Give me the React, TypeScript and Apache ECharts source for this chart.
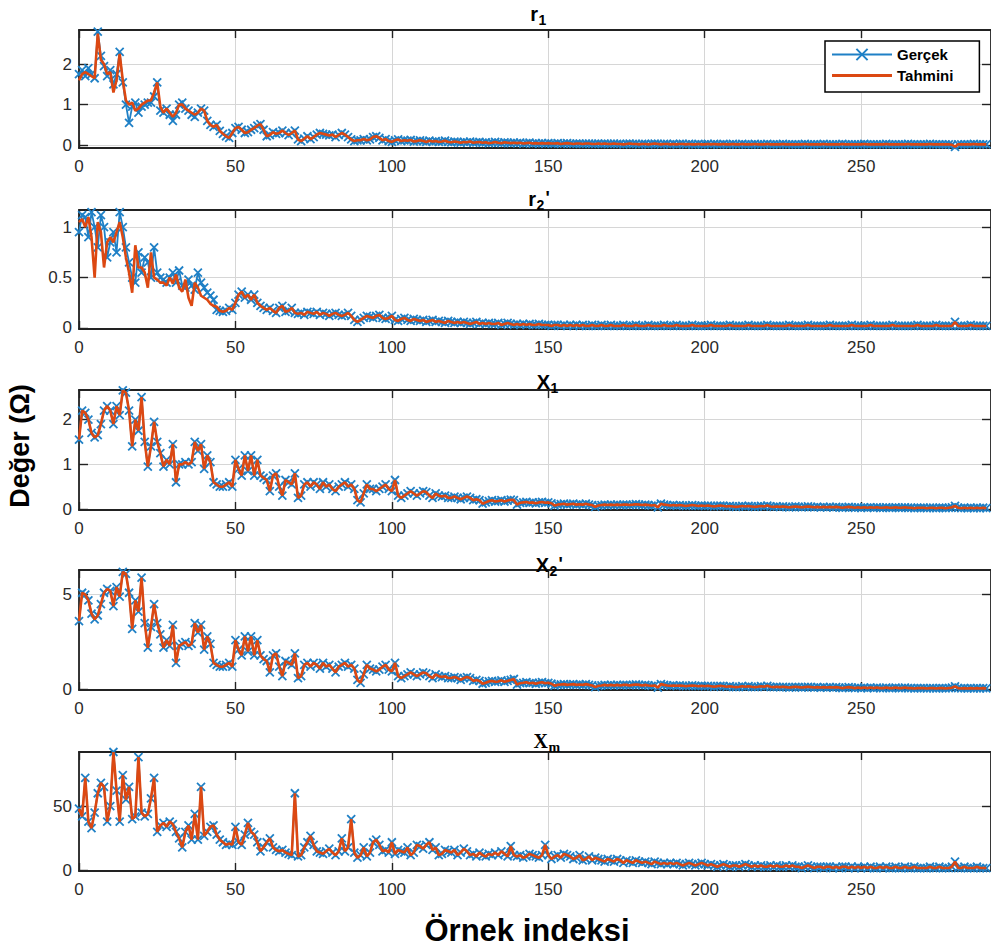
import React, { useEffect, useRef } from 'react';
import * as echarts from 'echarts';

const xTickValues = [0, 50, 100, 150, 200, 250];
const seriesNames = ['Gerçek', 'Tahmini'];

const r1Gercek = [
  1.75,1.85,1.7,1.9,1.75,1.65,2.8,2.2,1.95,1.7,
  1.85,1.5,1.75,2.3,1.55,1.0,0.55,0.95,1.05,0.8,
  0.95,1.0,1.05,1.05,1.2,1.55,0.85,0.8,0.9,0.75,
  0.6,0.75,1.0,1.05,0.9,0.85,0.75,0.7,0.8,0.9,
  0.85,0.6,0.5,0.45,0.5,0.35,0.28,0.22,0.18,0.3,
  0.42,0.45,0.38,0.3,0.32,0.38,0.42,0.48,0.52,0.38,
  0.22,0.25,0.32,0.28,0.3,0.36,0.3,0.25,0.3,0.36,
  0.14,0.1,0.16,0.22,0.15,0.2,0.26,0.3,0.28,0.26,
  0.24,0.26,0.2,0.25,0.3,0.26,0.2,0.14,0.1,0.12,
  0.12,0.15,0.12,0.14,0.2,0.22,0.18,0.12,0.15,0.1,
  0.08,0.12,0.14,0.1,0.12,0.11,0.13,0.09,0.1,0.12,
  0.1,0.08,0.11,0.09,0.1,0.08,0.09,0.11,0.08,0.07,
  0.09,0.08,0.06,0.08,0.07,0.09,0.06,0.07,0.08,0.06,
  0.07,0.05,0.06,0.08,0.06,0.05,0.07,0.06,0.05,0.06,
  0.05,0.06,0.04,0.05,0.06,0.04,0.05,0.04,0.05,0.04,
  0.05,0.04,0.04,0.05,0.03,0.04,0.05,0.04,0.03,0.04,
  0.04,0.03,0.04,0.04,0.03,0.03,0.04,0.03,0.04,0.03,
  0.03,0.04,0.03,0.03,0.02,0.03,0.04,0.03,0.03,0.02,
  0.03,0.03,0.02,0.03,0.04,0.03,0.02,0.03,0.03,0.02,
  0.03,0.02,0.03,0.03,0.02,0.03,0.02,0.02,0.03,0.02,
  0.02,0.03,0.02,0.03,0.02,0.02,0.03,0.02,0.02,0.03,
  0.02,0.02,0.03,0.02,0.02,0.02,0.03,0.02,0.02,0.02,
  0.03,0.02,0.02,0.02,0.02,0.03,0.02,0.02,0.02,0.02,
  0.02,0.02,0.03,0.02,0.02,0.02,0.02,0.02,0.03,0.02,
  0.02,0.02,0.02,0.02,0.03,0.02,0.02,0.02,0.02,0.02,
  0.02,0.03,0.02,0.02,0.02,0.02,0.02,0.02,0.03,0.02,
  0.02,0.02,0.02,0.02,0.02,0.03,0.02,0.02,0.02,0.02,
  0.02,0.02,0.03,0.02,0.02,0.02,0.02,0.02,0.02,0.01,
  -0.04,0.02,0.02,0.02,0.02,0.02,0.03,0.02,0.02,0.02,0.02
];
const r1TahminiHead = [
  1.6,1.75,1.8,1.75,1.7,1.65,2.75,2.1,2.0,1.75,
  1.8,1.3,1.6,2.25,1.6,1.1,1.0,1.05,0.85,0.9,
  1.0,1.05,1.1,1.1,1.3,1.55,0.95,0.8,0.9,0.8,
  0.7,0.8,1.0,1.0,0.9,0.85,0.8,0.75,0.8,0.9
];

const r2Gercek = [
  0.95,1.12,1.1,0.9,1.15,1.0,0.8,1.12,1.0,0.7,
  0.85,0.95,0.75,1.15,1.0,0.8,0.65,0.5,0.45,0.75,
  0.55,0.7,0.65,0.5,0.8,0.55,0.5,0.48,0.45,0.5,
  0.55,0.45,0.57,0.42,0.4,0.48,0.42,0.38,0.55,0.45,
  0.4,0.35,0.32,0.28,0.18,0.17,0.16,0.17,0.2,0.18,
  0.25,0.33,0.36,0.3,0.33,0.28,0.33,0.25,0.22,0.2,
  0.18,0.2,0.17,0.15,0.2,0.22,0.16,0.17,0.2,0.15,
  0.14,0.15,0.13,0.16,0.15,0.14,0.16,0.13,0.15,0.14,
  0.12,0.14,0.15,0.13,0.12,0.13,0.15,0.12,0.08,0.06,
  0.08,0.1,0.12,0.11,0.1,0.12,0.13,0.1,0.09,0.1,
  0.12,0.08,0.07,0.09,0.1,0.08,0.07,0.09,0.08,0.07,
  0.08,0.06,0.07,0.08,0.06,0.07,0.06,0.05,0.07,0.06,
  0.05,0.06,0.05,0.06,0.05,0.04,0.05,0.06,0.04,0.05,
  0.04,0.05,0.04,0.04,0.05,0.03,0.04,0.05,0.04,0.03,
  0.04,0.03,0.04,0.03,0.04,0.03,0.03,0.04,0.03,0.03,
  0.03,0.02,0.03,0.03,0.02,0.03,0.02,0.03,0.02,0.03,
  0.02,0.03,0.02,0.02,0.03,0.02,0.02,0.03,0.02,0.02,
  0.03,0.02,0.02,0.02,0.03,0.02,0.02,0.02,0.03,0.02,
  0.02,0.02,0.03,0.02,0.02,0.02,0.02,0.03,0.02,0.02,
  0.02,0.03,0.02,0.02,0.02,0.02,0.03,0.02,0.02,0.02,
  0.02,0.02,0.03,0.02,0.02,0.02,0.02,0.02,0.03,0.02,
  0.02,0.02,0.02,0.02,0.03,0.02,0.02,0.02,0.02,0.02,
  0.03,0.02,0.02,0.02,0.02,0.02,0.02,0.03,0.02,0.02,
  0.02,0.02,0.02,0.03,0.02,0.02,0.02,0.02,0.02,0.02,
  0.03,0.02,0.02,0.02,0.02,0.02,0.02,0.03,0.02,0.02,
  0.02,0.02,0.02,0.03,0.02,0.02,0.02,0.02,0.02,0.02,
  0.03,0.02,0.02,0.02,0.02,0.02,0.02,0.02,0.03,0.02,
  0.02,0.02,0.02,0.02,0.03,0.02,0.02,0.02,0.02,0.02,
  0.06,0.02,0.02,0.02,0.02,0.03,0.02,0.02,0.02,0.02,0.02
];
const r2TahminiHead = [
  1.05,1.08,1.0,1.1,0.9,0.5,1.05,0.95,0.6,0.85,
  0.9,0.85,0.95,1.05,0.9,0.7,0.55,0.35,0.82,0.6,
  0.6,0.55,0.4,0.75,0.5,0.48,0.45,0.45,0.42,0.5,
  0.44,0.53,0.4,0.36,0.48,0.3,0.22,0.45,0.4,0.32,
  0.3,0.28,0.24,0.22,0.21
];

const x1Gercek = [
  1.55,2.2,2.15,2.0,1.7,1.6,1.65,1.9,2.2,2.3,
  2.2,1.9,2.3,2.1,2.65,2.6,2.2,1.4,2.0,1.75,
  2.5,1.5,0.95,1.4,1.95,1.5,1.25,0.95,1.1,1.0,
  1.45,0.6,1.0,1.0,1.05,1.0,1.05,1.5,1.3,1.45,
  0.9,1.2,1.05,0.6,0.55,0.5,0.5,0.55,0.6,0.5,
  1.1,0.9,0.75,1.2,0.85,1.2,0.75,1.1,0.75,0.7,
  0.65,0.4,0.75,0.8,0.5,0.3,0.65,0.6,0.55,0.8,
  0.25,0.3,0.55,0.6,0.5,0.6,0.55,0.45,0.6,0.5,
  0.55,0.45,0.4,0.5,0.55,0.6,0.5,0.55,0.45,0.2,
  0.15,0.35,0.55,0.45,0.45,0.4,0.45,0.5,0.55,0.45,
  0.4,0.65,0.3,0.25,0.3,0.35,0.4,0.35,0.3,0.35,
  0.4,0.38,0.3,0.25,0.35,0.3,0.28,0.3,0.25,0.25,
  0.28,0.25,0.22,0.25,0.28,0.25,0.2,0.22,0.2,0.12,
  0.15,0.18,0.2,0.17,0.18,0.2,0.17,0.19,0.21,0.2,
  0.1,0.14,0.15,0.16,0.14,0.15,0.13,0.15,0.16,0.14,
  0.15,0.13,0.08,0.1,0.11,0.12,0.1,0.11,0.12,0.1,
  0.11,0.1,0.12,0.1,0.09,0.05,0.08,0.09,0.1,0.09,
  0.1,0.09,0.1,0.09,0.1,0.1,0.09,0.1,0.11,0.1,
  0.09,0.1,0.09,0.08,0.09,0.04,0.12,0.1,0.09,0.08,
  0.09,0.08,0.09,0.08,0.07,0.08,0.09,0.08,0.07,0.08,
  0.07,0.08,0.07,0.06,0.07,0.08,0.07,0.06,0.07,0.06,
  0.05,0.06,0.07,0.06,0.07,0.06,0.05,0.06,0.07,0.06,
  0.08,0.06,0.05,0.06,0.05,0.06,0.05,0.04,0.05,0.06,
  0.05,0.04,0.05,0.06,0.05,0.04,0.05,0.04,0.05,0.04,
  0.05,0.04,0.05,0.04,0.03,0.04,0.05,0.04,0.03,0.04,
  0.03,0.04,0.03,0.04,0.03,0.04,0.03,0.03,0.04,0.03,
  0.03,0.04,0.03,0.03,0.04,0.03,0.03,0.02,0.03,0.03,
  0.03,0.02,0.03,0.03,0.02,0.03,0.03,0.02,0.03,0.04,
  0.07,0.03,0.02,0.03,0.02,0.03,0.02,0.03,0.02,0.03,0.02
];

const x2Gercek = [
  3.6,5.1,5.0,4.7,4.0,3.7,3.9,4.5,5.1,5.3,
  5.2,4.4,5.4,4.9,6.2,6.1,5.1,3.2,4.7,4.1,
  5.9,3.5,2.2,3.3,4.5,3.5,2.9,2.2,2.6,2.3,
  3.4,1.4,2.3,2.4,2.5,2.3,2.4,3.5,3.0,3.4,
  2.1,2.8,2.4,1.4,1.3,1.2,1.2,1.3,1.4,1.2,
  2.6,2.1,1.8,2.8,2.0,2.8,1.8,2.6,1.8,1.6,
  1.5,0.9,1.8,1.9,1.2,0.7,1.5,1.4,1.3,1.9,
  0.6,0.7,1.3,1.4,1.2,1.4,1.3,1.1,1.4,1.2,
  1.3,1.1,0.9,1.2,1.3,1.4,1.2,1.3,1.1,0.5,
  0.35,0.8,1.3,1.1,1.05,0.95,1.05,1.2,1.3,1.05,
  0.95,1.4,0.7,0.6,0.7,0.8,0.9,0.8,0.7,0.8,
  0.9,0.85,0.7,0.6,0.8,0.7,0.65,0.7,0.6,0.6,
  0.65,0.6,0.5,0.6,0.65,0.6,0.45,0.5,0.45,0.3,
  0.35,0.42,0.45,0.4,0.42,0.48,0.4,0.45,0.5,0.55,
  0.25,0.33,0.35,0.38,0.33,0.35,0.3,0.35,0.38,0.33,
  0.35,0.3,0.2,0.24,0.26,0.28,0.24,0.26,0.28,0.24,
  0.26,0.24,0.28,0.24,0.21,0.12,0.19,0.21,0.24,0.21,
  0.24,0.21,0.24,0.21,0.24,0.24,0.21,0.24,0.26,0.24,
  0.21,0.24,0.21,0.19,0.21,0.1,0.28,0.24,0.21,0.19,
  0.21,0.19,0.21,0.19,0.17,0.19,0.21,0.19,0.17,0.19,
  0.17,0.19,0.17,0.14,0.17,0.19,0.17,0.14,0.17,0.14,
  0.12,0.14,0.17,0.14,0.17,0.14,0.12,0.14,0.17,0.14,
  0.19,0.14,0.12,0.14,0.12,0.14,0.12,0.1,0.12,0.14,
  0.12,0.1,0.12,0.14,0.12,0.1,0.12,0.1,0.12,0.1,
  0.12,0.1,0.12,0.1,0.07,0.1,0.12,0.1,0.07,0.1,
  0.07,0.1,0.07,0.1,0.07,0.1,0.07,0.07,0.1,0.07,
  0.07,0.1,0.07,0.07,0.1,0.07,0.07,0.05,0.07,0.07,
  0.07,0.05,0.07,0.07,0.05,0.07,0.07,0.05,0.07,0.09,
  0.16,0.07,0.05,0.07,0.05,0.07,0.05,0.07,0.05,0.07,0.05
];

const xmGercek = [
  48,42,72,38,33,45,60,68,65,38,
  50,92,62,38,74,55,65,40,42,88,
  45,42,44,56,72,30,35,37,34,38,
  36,30,25,18,30,35,24,44,24,65,
  27,30,34,35,28,24,22,20,21,20,
  34,22,20,28,37,30,28,22,15,18,
  22,25,18,16,15,16,14,13,12,60,
  11,12,18,22,27,20,15,14,13,15,
  17,14,12,15,25,15,18,40,14,10,
  12,18,11,14,22,24,20,15,16,14,
  22,13,16,15,14,18,12,14,20,19,
  17,20,22,16,18,12,13,16,15,14,
  16,12,14,17,15,12,13,11,14,12,
  11,13,12,14,12,15,13,11,19,12,
  11,12,10,11,13,12,11,10,12,20,
  12,9,11,12,10,13,12,11,9,10,
  12,8,9,11,8,10,9,8,7,9,
  8,7,9,8,6,8,7,6,8,7,
  6,7,6,5,7,6,5,6,5,6,
  5,6,5,4,5,6,5,4,5,6,
  5,4,5,4,3,4,5,4,3,4,
  4,3,4,5,4,3,4,3,4,3,
  3,4,3,4,3,3,4,3,4,3,
  3,2,3,4,3,2,3,3,2,3,
  3,2,3,2,3,3,2,3,2,3,
  2,3,2,3,2,2,3,2,3,2,
  2,3,2,2,3,2,2,3,2,2,
  2,2,3,2,2,3,2,2,2,3,
  7,2,2,3,2,2,2,3,2,2,2
];

const r1Tahmini = [...r1TahminiHead, ...r1Gercek.slice(r1TahminiHead.length)];
const r2Tahmini = [...r2TahminiHead, ...r2Gercek.slice(r2TahminiHead.length)];
const x1Tahmini = x1Gercek;
const x2Tahmini = x2Gercek;
const xmTahmini = xmGercek;

const yTicks1 = [0, 1, 2];
const yTicks2 = [0, 0.5, 1];
const yTicks3 = [0, 1, 2];
const yTicks4 = [0, 5];
const yTicks5 = [0, 50];

const panels = [
  { g: r1Gercek, t: r1Tahmini, ticks: yTicks1, min: -0.07, max: 2.84, top: 30, height: 118,
    title: { main: 'r', sub: '1', prime: false, serif: false, cx: 538, cy: 14 } },
  { g: r2Gercek, t: r2Tahmini, ticks: yTicks2, min: -0.01, max: 1.17, top: 210, height: 119,
    title: { main: 'r', sub: '2', prime: true, serif: false, cx: 536, cy: 199 } },
  { g: x1Gercek, t: x1Tahmini, ticks: yTicks3, min: -0.02, max: 2.66, top: 390, height: 120,
    title: { main: 'X', sub: '1', prime: false, serif: false, cx: 550, cy: 382 } },
  { g: x2Gercek, t: x2Tahmini, ticks: yTicks4, min: -0.03, max: 6.3, top: 570, height: 120,
    title: { main: 'X', sub: '2', prime: true, serif: false, cx: 549, cy: 565 } },
  { g: xmGercek, t: xmTahmini, ticks: yTicks5, min: -0.3, max: 92, top: 752, height: 119,
    title: { main: 'X', sub: 'm', prime: false, serif: true, cx: 548, cy: 741 } },
];

const BLUE = '#1f80c6';
const ORANGE = '#dc4812';
const AXIS = '#222';
const SANS = '"Liberation Sans", Arial, Helvetica, sans-serif';
const SERIF = '"Liberation Serif", "Times New Roman", serif';
const X_MIN = 0;
const X_MAX = 291.5;
const GRID_LEFT = 79;
const GRID_WIDTH = 918;
const X_SYMBOL = 'path://M0,0L10,10M10,0L0,10';
const LINE_ICON = 'path://M0,0L0,0.01M0,5.5L60,5.5L60,8.5L0,8.5ZM60,14L60,14.01';

export default function App() {
  const ref = useRef<HTMLDivElement>(null);
  useEffect(() => {
    if (!ref.current) return;
    const chart = echarts.init(ref.current, undefined, { renderer: 'svg' });

    const grid: any[] = [];
    const xAxis: any[] = [];
    const yAxis: any[] = [];
    const series: any[] = [];
    const graphic: any[] = [];

    panels.forEach((p, i) => {
      grid.push({ left: GRID_LEFT, top: p.top, width: GRID_WIDTH, height: p.height, containLabel: false });
      const axisLine = { show: true, onZero: false, lineStyle: { color: AXIS, width: 1.8 } };
      xAxis.push({
        type: 'value', gridIndex: i, min: X_MIN, max: X_MAX, position: 'bottom',
        axisLine,
        axisTick: { show: true, inside: true, length: 8, customValues: xTickValues, lineStyle: { color: AXIS, width: 1.4 } },
        axisLabel: { show: true, customValues: xTickValues, margin: 10, fontSize: 17, color: '#2a2a2a', fontFamily: SANS },
        splitLine: { show: true, lineStyle: { color: '#d6d6d6', width: 1 } },
      });
      xAxis.push({
        type: 'value', gridIndex: i, min: X_MIN, max: X_MAX, position: 'top',
        axisLine,
        axisTick: { show: true, inside: true, length: 8, customValues: xTickValues, lineStyle: { color: AXIS, width: 1.4 } },
        axisLabel: { show: false },
        splitLine: { show: false },
      });
      yAxis.push({
        type: 'value', gridIndex: i, min: p.min, max: p.max, position: 'left',
        axisLine,
        axisTick: { show: true, inside: true, length: 9, customValues: p.ticks, lineStyle: { color: AXIS, width: 1.4 } },
        axisLabel: { show: true, customValues: p.ticks, margin: 7, fontSize: 17, color: '#2a2a2a', fontFamily: SANS },
        splitLine: { show: true, lineStyle: { color: '#d6d6d6', width: 1 } },
      });
      yAxis.push({
        type: 'value', gridIndex: i, min: p.min, max: p.max, position: 'right',
        axisLine,
        axisTick: { show: true, inside: true, length: 9, customValues: p.ticks, lineStyle: { color: AXIS, width: 1.4 } },
        axisLabel: { show: false },
        splitLine: { show: false },
      });
      series.push({
        name: seriesNames[0], type: 'line', xAxisIndex: 2 * i, yAxisIndex: 2 * i,
        data: p.g.map((v, k) => [k, v]),
        symbol: X_SYMBOL, symbolSize: 8, showSymbol: true, showAllSymbol: true,
        lineStyle: { color: BLUE, width: 1.8 },
        itemStyle: { color: BLUE, borderColor: BLUE, borderWidth: 1.8 },
        z: 2,
      });
      series.push({
        name: seriesNames[1], type: 'line', xAxisIndex: 2 * i, yAxisIndex: 2 * i,
        data: p.t.map((v, k) => [k, v]),
        symbol: 'none', showSymbol: false,
        lineStyle: { color: ORANGE, width: 2.6 },
        itemStyle: { color: ORANGE },
        z: 3,
      });

      const tt = p.title;
      const fam = tt.serif ? SERIF : SANS;
      graphic.push({
        type: 'text', x: tt.cx, y: tt.cy, z: 10,
        style: { text: tt.main, fontSize: 20, fontWeight: 'bold', fontFamily: fam, fill: '#000', align: 'right', verticalAlign: 'middle' },
      });
      graphic.push({
        type: 'text', x: tt.cx + 0.5, y: tt.cy + 6, z: 10,
        style: { text: tt.sub, fontSize: 14, fontWeight: 'bold', fontFamily: fam, fill: '#000', align: 'left', verticalAlign: 'middle' },
      });
      if (tt.prime) {
        graphic.push({
          type: 'text', x: tt.cx + 9.5, y: tt.cy - 1, z: 10,
          style: { text: "'", fontSize: 18, fontWeight: 'bold', fontFamily: fam, fill: '#000', align: 'left', verticalAlign: 'middle' },
        });
      }
    });

    graphic.push({
      type: 'text', x: 20, y: 446, rotation: Math.PI / 2, z: 10,
      style: { text: 'Değer (Ω)', fontSize: 27, fontWeight: 'bold', fontFamily: SANS, fill: '#000', align: 'center', verticalAlign: 'middle' },
    });
    graphic.push({
      type: 'text', x: 527, y: 930, z: 10,
      style: { text: 'Örnek indeksi', fontSize: 31, fontWeight: 'bold', fontFamily: SANS, fill: '#000', align: 'center', verticalAlign: 'middle' },
    });

    chart.setOption({
      animation: false,
      backgroundColor: '#fff',
      grid, xAxis, yAxis, series, graphic,
      legend: {
        data: [
          { name: seriesNames[0] },
          { name: seriesNames[1], icon: LINE_ICON, itemStyle: { color: ORANGE } },
        ],
        orient: 'vertical',
        left: 825, top: 41,
        itemWidth: 60, itemHeight: 14, itemGap: 6,
        padding: [6, 26, 9, 6],
        backgroundColor: '#fff',
        borderColor: '#000', borderWidth: 1.5, borderRadius: 0,
        textStyle: { fontSize: 15, fontWeight: 'bold', color: '#000', fontFamily: SANS },
      },
    });
    return () => chart.dispose();
  }, []);
  return <div ref={ref} style={{ position: 'absolute', left: 0, top: 0, width: 991, height: 948 }} />;
}
